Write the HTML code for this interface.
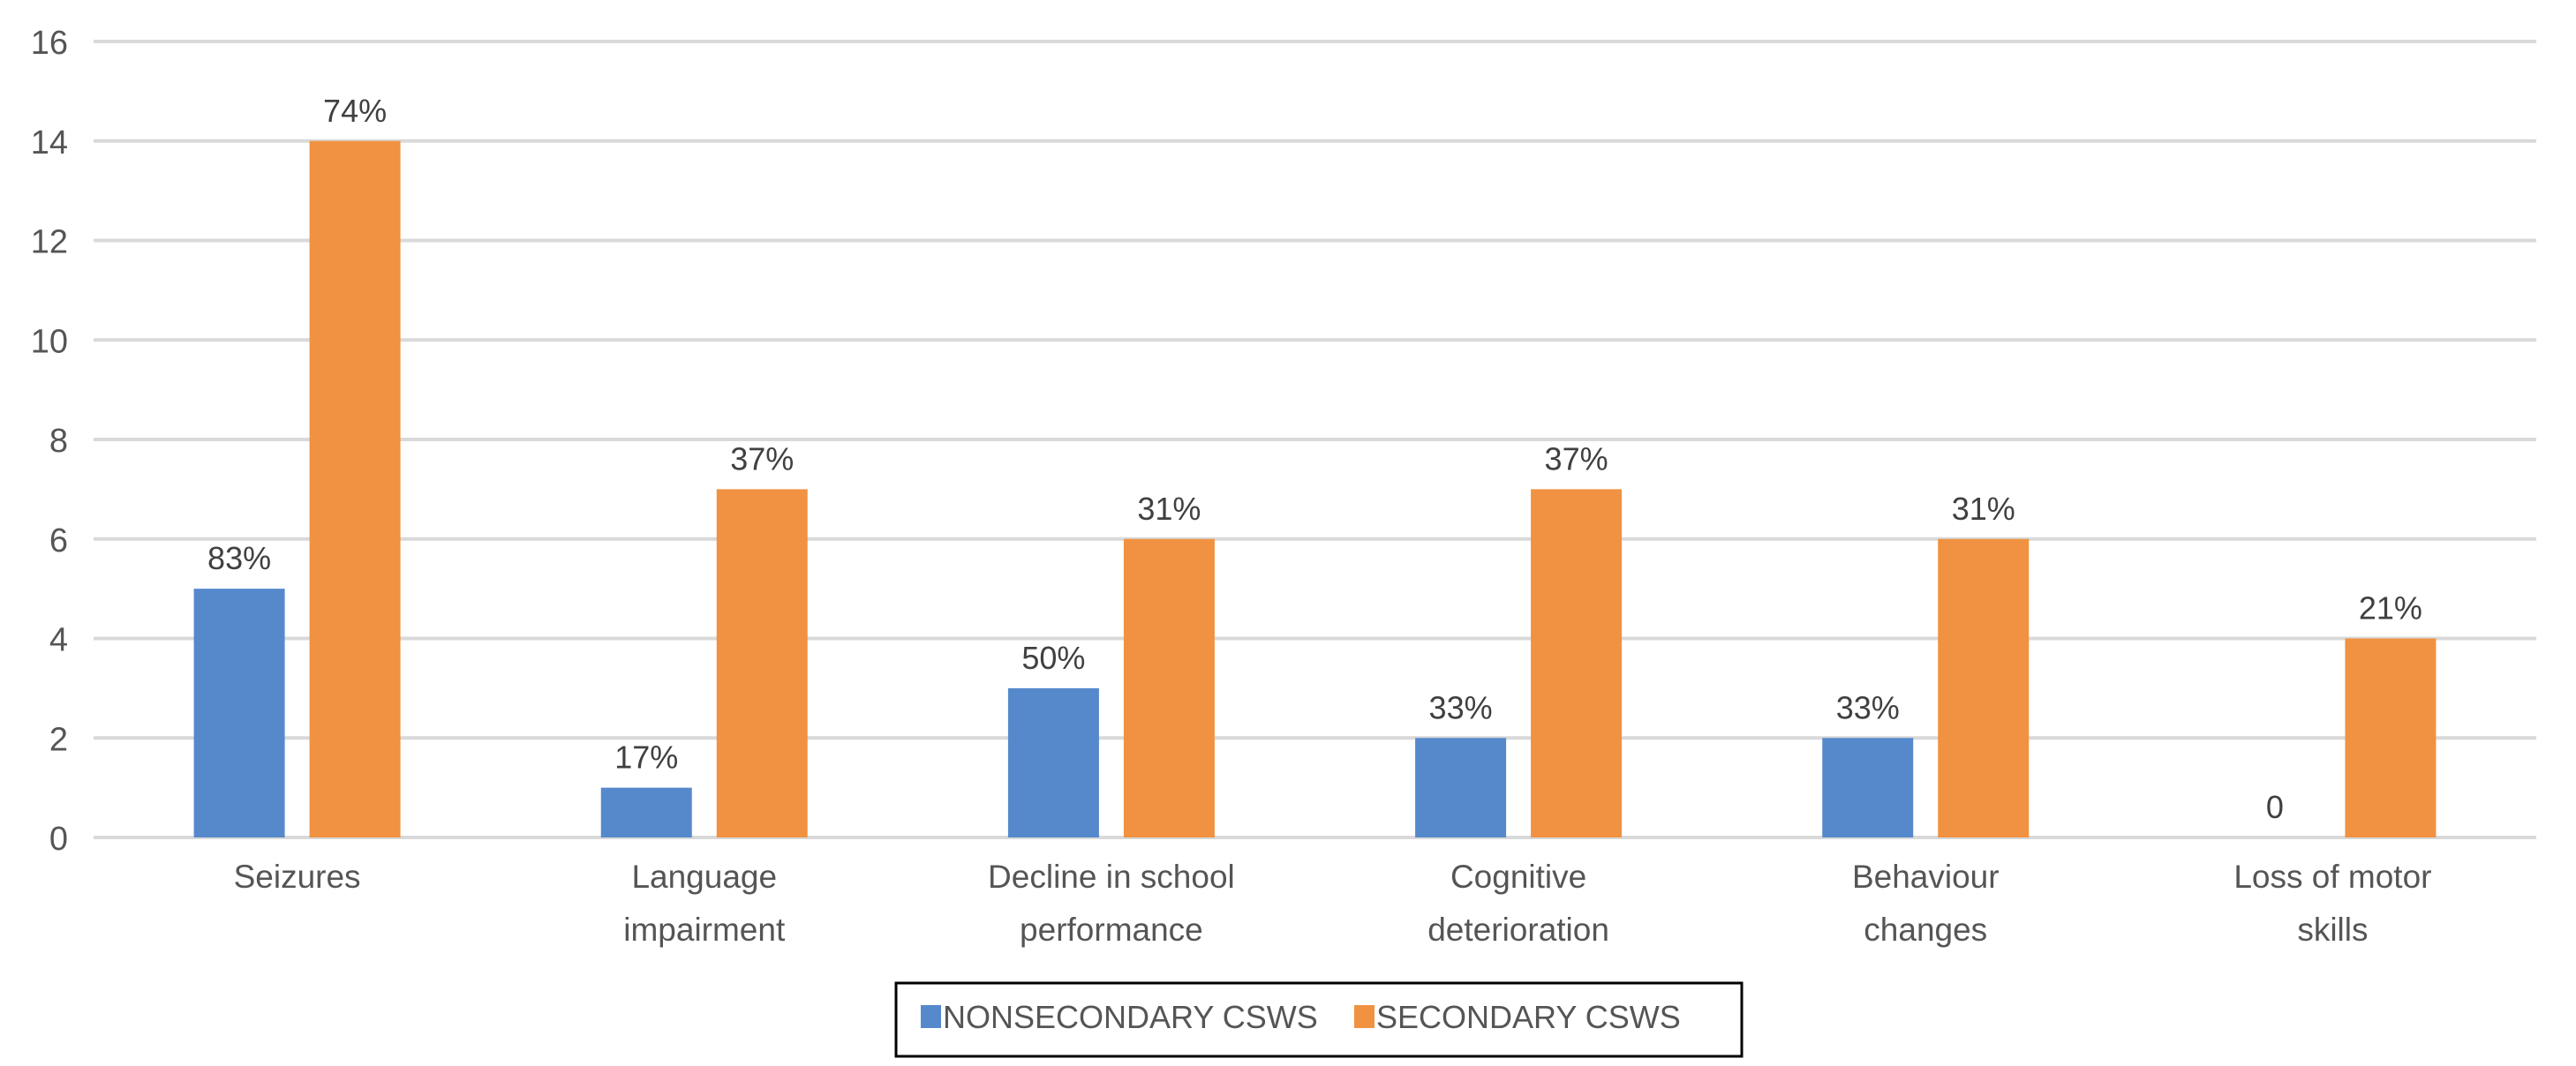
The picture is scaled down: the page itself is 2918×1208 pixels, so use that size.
<!DOCTYPE html>
<html><head><meta charset="utf-8"><style>
html,body{margin:0;padding:0;background:#fff;}
svg{display:block;}
text{font-family:"Liberation Sans",Arial,sans-serif;}
.cat{font-family:"Liberation Sans Narrow","Liberation Sans",sans-serif;}
</style></head><body>
<svg id="chart" width="2918" height="1208" viewBox="0 0 2918 1208" xmlns="http://www.w3.org/2000/svg">
<g id="grid"></g>
<g id="yticks"></g>
<g id="bars"></g>
<g id="labels"></g>
<g id="cats"></g>
<g>
<rect x="1015" y="1114" width="958" height="83" fill="#fff" stroke="#000" stroke-width="3"/>
<rect x="1043" y="1139" width="23" height="26" fill="#5589cc"/>
<text class="cat" x="1068" y="1165" font-size="36" fill="#555">NONSECONDARY CSWS</text>
<rect x="1534" y="1139" width="23" height="26" fill="#f09241"/>
<text class="cat" x="1559" y="1165" font-size="36" fill="#555">SECONDARY CSWS</text>
</g>
</svg>
<script>
const categories = [["Seizures"],["Language","impairment"],["Decline in school","performance"],["Cognitive","deterioration"],["Behaviour","changes"],["Loss of motor","skills"]];
const nonsecondary = [5,1,3,2,2,0];
const secondary = [14,7,6,7,6,4];
const nonsecLabels = ["83%","17%","50%","33%","33%","0"];
const secLabels = ["74%","37%","31%","37%","31%","21%"];
const yTicks = [0,2,4,6,8,10,12,14,16];

const NS="http://www.w3.org/2000/svg";
const L=106,R=2873,T=47,B=949,yMax=16;
const y=v=>B-(B-T)*v/yMax;
const bw=(R-L)/categories.length;
const xc=i=>L+bw*(i+0.5);
const barW=103,off=65.5;
function mk(tag,attrs,parent,txt){const e=document.createElementNS(NS,tag);for(const k in attrs)e.setAttribute(k,attrs[k]);if(txt!==undefined)e.textContent=txt;document.getElementById(parent).appendChild(e);return e;}
yTicks.forEach(t=>{
  const g=mk('line',{x1:L,x2:R,y1:y(t),y2:y(t),stroke:'#d9d9d9','stroke-width':4},'grid');
  
  
  const tx=mk('text',{x:77,y:y(t)+14,'font-size':38,fill:'#555','text-anchor':'end'},'yticks',String(t));
  
  
});
categories.forEach((c,i)=>{
  [[nonsecondary,-off,'#5589cc',nonsecLabels,'nonsecondary'],[secondary,off,'#f09241',secLabels,'secondary']].forEach(([arr,o,col,lab,nm])=>{
    const v=arr[i];
    if(v>0){
      const b=mk('rect',{x:xc(i)+o-barW/2,y:y(v),width:barW,height:B-y(v),fill:col},'bars');
      
      
    }
    const t=mk('text',{x:xc(i)+o,y:y(v)-22,'font-size':36,fill:'#404040','text-anchor':'middle'},'labels',lab[i]);
    
    
  });
  c.forEach((line,j)=>{
    const t=mk('text',{class:'cat',x:xc(i),y:1006+j*60,'font-size':37,fill:'#555','text-anchor':'middle'},'cats',line);
    
    
  });
});
</script>
</body></html>
